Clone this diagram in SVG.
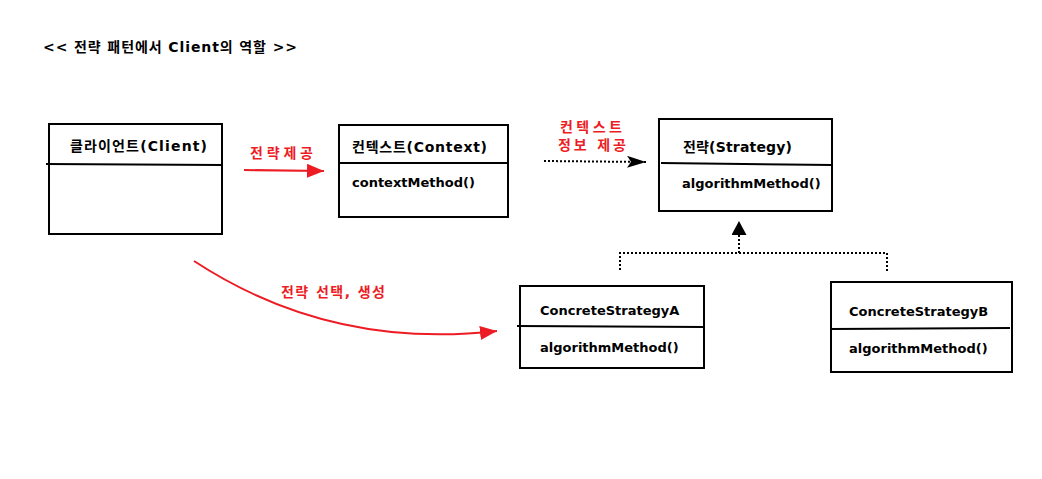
<svg xmlns="http://www.w3.org/2000/svg" width="1042" height="479" viewBox="0 0 1042 479">
<defs>
<style>
.box{fill:#fff;stroke:#000;stroke-width:2}
.div{stroke:#000;stroke-width:2;fill:none}
.t{font-family:"DejaVu Sans","Noto Sans CJK KR",sans-serif;font-weight:bold;font-size:14px;fill:#000}
.m{font-size:13px}
.r{fill:#ed1c24}
.red{stroke:#ed1c24;stroke-width:2;fill:none}
.dot{stroke:#000;stroke-width:2;stroke-dasharray:2 2;fill:none}
</style>
<marker id="redArrow" markerUnits="userSpaceOnUse" markerWidth="18" markerHeight="16" refX="17" refY="7" orient="auto">
<path d="M0,0 L17,7 L0,14 z" fill="#ed1c24"/>
</marker>
<marker id="blackArrow" markerUnits="userSpaceOnUse" markerWidth="20" markerHeight="14" refX="19" refY="6" orient="auto">
<path d="M0,0 L19,6 L0,12 L4,6 z" fill="#000"/>
</marker>
<marker id="tri" markerUnits="userSpaceOnUse" markerWidth="16" markerHeight="16" refX="14" refY="7.5" orient="auto">
<path d="M0,0 L14,7.5 L0,15 z" fill="#000"/>
</marker>
</defs>
<rect width="1042" height="479" fill="#fff"/>
<text class="t" x="43" y="52" textLength="254" lengthAdjust="spacing">&lt;&lt; 전략 패턴에서 Client의 역할 &gt;&gt;</text>

<g id="connectors">
<line class="red" x1="244" y1="170" x2="324" y2="171" marker-end="url(#redArrow)"/>
<text class="t r" x="250" y="158" textLength="63" lengthAdjust="spacing">전략제공</text>
<line class="dot" x1="544" y1="161" x2="646" y2="162" stroke-dasharray="1.5 1.5" marker-end="url(#blackArrow)"/>
<text class="t r" x="560" y="132" textLength="62" lengthAdjust="spacing">컨텍스트</text>
<text class="t r" x="558" y="150" textLength="68" lengthAdjust="spacing">정보 제공</text>
<path class="dot" d="M620,270 L620,253 L887,253 L887,273"/>
<line class="dot" x1="739" y1="253" x2="739" y2="221" marker-end="url(#tri)"/>
<path class="red" d="M194,261 Q330,350 497,331" marker-end="url(#redArrow)"/>
<text class="t r" x="281" y="297" textLength="104" lengthAdjust="spacing">전략 선택, 생성</text>
</g>

<g id="client">
<rect class="box" x="49" y="124" width="173" height="110"/>
<line class="div" x1="46" y1="164" x2="222" y2="165"/>
<text class="t" x="70" y="151" textLength="137" lengthAdjust="spacing">클라이언트(Client)</text>
</g>

<g id="context">
<rect class="box" x="339" y="125" width="169" height="92"/>
<line class="div" x1="339" y1="163" x2="508" y2="163"/>
<text class="t" x="352" y="152" textLength="135" lengthAdjust="spacing">컨텍스트(Context)</text>
<text class="t m" x="352" y="187">contextMethod()</text>
</g>

<g id="strategy">
<rect class="box" x="659" y="119" width="173" height="92"/>
<line class="div" x1="661" y1="163" x2="832" y2="165"/>
<text class="t" x="683" y="152" textLength="109" lengthAdjust="spacing">전략(Strategy)</text>
<text class="t m" x="682" y="188">algorithmMethod()</text>
</g>

<g id="concreteStrategyA">
<rect class="box" x="520" y="286" width="184" height="82"/>
<line class="div" x1="517" y1="326" x2="704" y2="327"/>
<text class="t m" x="540" y="315">ConcreteStrategyA</text>
<text class="t m" x="540" y="352">algorithmMethod()</text>
</g>

<g id="concreteStrategyB">
<rect class="box" x="831" y="282" width="181" height="90"/>
<line class="div" x1="831" y1="329" x2="1010" y2="328"/>
<text class="t m" x="849" y="316">ConcreteStrategyB</text>
<text class="t m" x="849" y="353">algorithmMethod()</text>
</g>
</svg>
